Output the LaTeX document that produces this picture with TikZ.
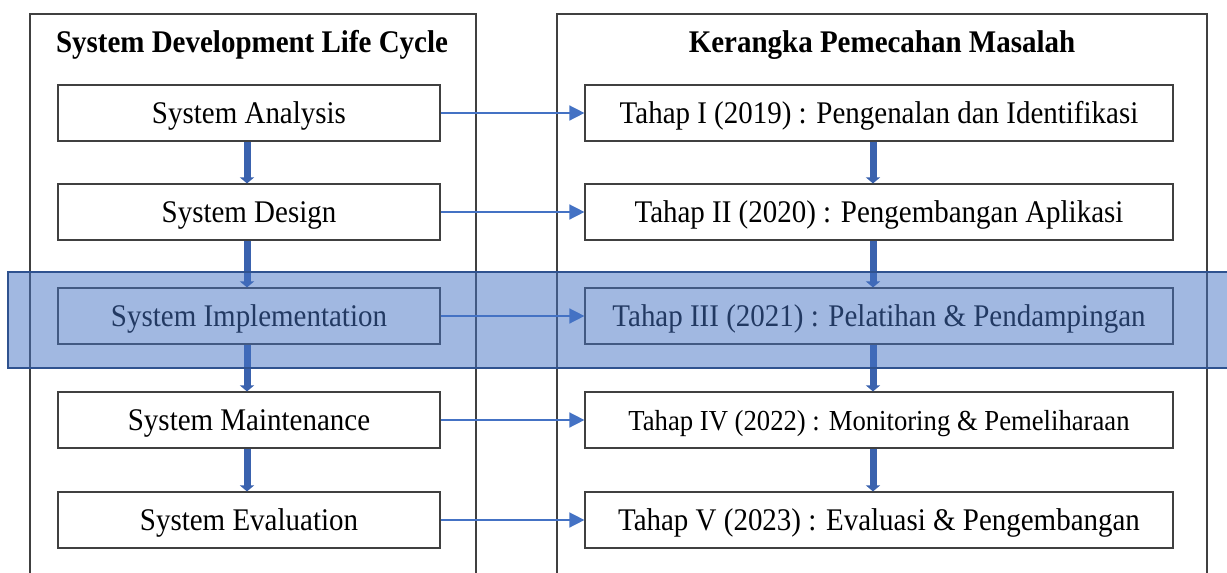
\documentclass[tikz,border=0pt]{standalone}
\usepackage{fontspec}
\setmainfont{Liberation Serif}[FakeStretch=0.92]
\usetikzlibrary{arrows.meta}
\definecolor{accent}{HTML}{4472C4}
\definecolor{darkacc}{HTML}{2F528F}
\definecolor{blockcol}{HTML}{3A62AE}
\definecolor{edgegray}{HTML}{404040}
\tikzset{
  stagebox/.style={draw=edgegray, line width=1.2pt, fill=white, minimum height=56pt, inner sep=0pt, text height=20.6pt, text depth=0pt, font=\fontsize{31.5}{36}\selectfont},
  leftbox/.style={stagebox, minimum width=382pt},
  rightbox/.style={stagebox, minimum width=588pt},
  paneltitle/.style={font=\fontsize{31.5}{36}\selectfont\bfseries, inner sep=0pt, text height=20pt, text depth=0pt},
  linkarrow/.style={draw=accent, line width=1.5pt, -{Triangle[length=15pt,width=15pt]}},
  downarrow/.style={draw=blockcol, line width=7pt, -{Triangle[length=6pt,width=14pt]}},
  panelline/.style={draw=edgegray, line width=1.5pt},
}
\begin{document}
\begin{tikzpicture}[x=1pt,y=-1pt]
\useasboundingbox (0,0) rectangle (1227,573);
\clip (0,0) rectangle (1227,573);
\fill[white] (0,0) rectangle (1227,573);
% panels
\draw[panelline] (30,580) -- (30,14) -- (476,14) -- (476,580);
\draw[panelline] (557,580) -- (557,14) -- (1207,14) -- (1207,580);
\node[paneltitle] (t1) at (252,42) {System Development Life Cycle};
\node[paneltitle] (t2) at (882,42) {Kerangka Pemecahan Masalah};
% left boxes
\node[leftbox] (a1) at (249,113) {System Analysis};
\node[leftbox] (a2) at (249,212) {System Design};
\node[leftbox] (a3) at (249,316) {System Implementation};
\node[leftbox] (a4) at (249,420) {System Maintenance};
\node[leftbox] (a5) at (249,520) {System Evaluation};
% right boxes
\node[rightbox] (b1) at (879,113) {Tahap I (2019) : Pengenalan dan Identifikasi};
\node[rightbox] (b2) at (879,212) {Tahap II (2020) : Pengembangan Aplikasi};
\node[rightbox] (b3) at (879,316) {Tahap III (2021) : Pelatihan \& Pendampingan};
\node[rightbox, font=\fontsize{29}{33}\selectfont] (b4) at (879,420) {Tahap IV (2022) : Monitoring \& Pemeliharaan};
\node[rightbox] (b5) at (879,520) {Tahap V (2023) : Evaluasi \& Pengembangan};
% down arrows
\foreach \i/\j in {1/2,2/3,3/4,4/5}{
  \draw[downarrow] ([xshift=-2pt]a\i.south) -- ([xshift=-2pt]a\j.north);
  \draw[downarrow] ([xshift=-6pt]b\i.south) -- ([xshift=-6pt]b\j.north);
}
% link arrows
\foreach \i in {1,...,5}{
  \draw[linkarrow] (a\i.east) -- (b\i.west);
}
% highlight band
\fill[accent, fill opacity=0.5] (8,272) rectangle (1240,368);
\draw[darkacc, line width=2.5pt] (8,272) rectangle (1240,368);
\end{tikzpicture}
\end{document}
